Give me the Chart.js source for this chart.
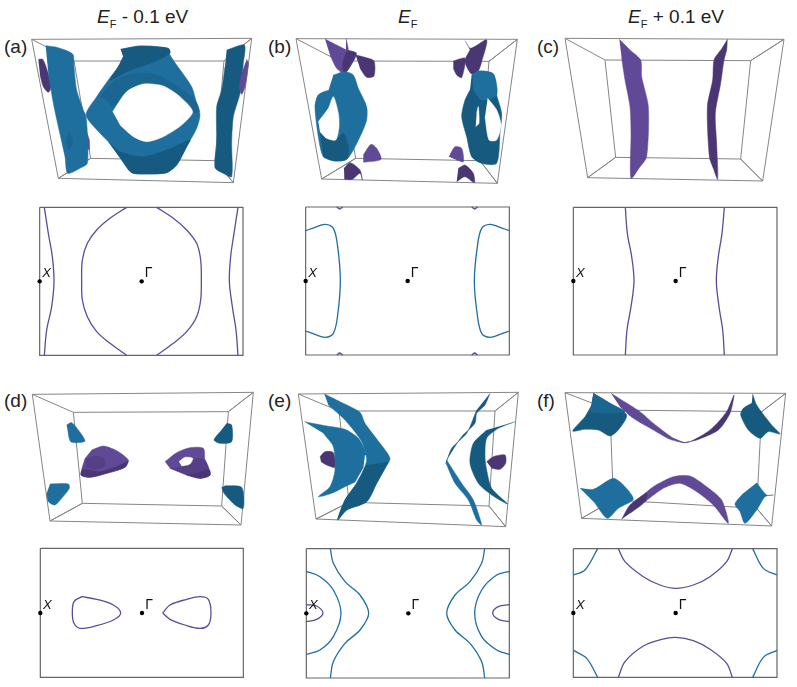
<!DOCTYPE html>
<html>
<head>
<meta charset="utf-8">
<script src="https://cdn.jsdelivr.net/npm/chart.js@4"></script>
<style>
  html, body { margin: 0; background: #fff; }
  body { position: relative; width: 797px; height: 687px; overflow: hidden; font-family: "Liberation Sans", Arial, sans-serif; color: #222; }
  canvas { position: absolute; }
  .txt { position: absolute; font-size: 19px; line-height: 22px; white-space: nowrap; }
  .txt sub { font-size: 11px; line-height: 0; }
</style>
</head>
<body>
<div class="txt" style="left:97px;top:6px"><i>E</i><sub>F</sub> - 0.1 eV</div>
<div class="txt" style="left:398px;top:6px"><i>E</i><sub>F</sub></div>
<div class="txt" style="left:628px;top:6px"><i>E</i><sub>F</sub> + 0.1 eV</div>
<div class="txt" style="left:4px;top:36px">(a)</div>
<div class="txt" style="left:268px;top:36px">(b)</div>
<div class="txt" style="left:537px;top:36px">(c)</div>
<div class="txt" style="left:4px;top:390px">(d)</div>
<div class="txt" style="left:268px;top:390px">(e)</div>
<div class="txt" style="left:537px;top:390px">(f)</div>
<script>
// === colours ===
const estilos = {
    azul: "#1f6f9e",
    azulMed: "#1b6591",
    azulOsc: "#175a80",
    morado: "#604a97",
    moradoMed: "#553f87",
    moradoOsc: "#4a3673",
    hueco: "#ffffff"
};

// === 3D boxes: 4 outer corners, then 4 back corners ===
const cajaA = [[95,118],[755,115],[700,548],[175,535],[222,183],[672,183],[645,482],[272,475]];
const cajaB = [[93,116],[757,118],[697,550],[170,537],[222,183],[672,184],[645,482],[272,475]];
const cajaC = [[105,115],[762,118],[698,543],[173,533],[225,180],[662,182],[632,477],[257,472]];
const cajaD = [[97,43],[760,37],[723,435],[150,423],[220,97],[685,95],[665,378],[247,370]];
const cajaE = [[100,42],[760,37],[722,440],[153,417],[222,93],[690,93],[672,378],[252,367]];
const cajaF = [[105,38],[767,40],[725,438],[155,415],[240,90],[695,95],[680,385],[250,360]];

// === (a) surfaces ===
const aMoradoIzq = [[115,178],[128,178],[143,215],[153,262],[145,277],[130,260],[120,225]];
const aMoradoPeq = [[258,392],[268,420],[268,450],[260,440]];
const aHojaIzq = [[137,137],[170,142],[218,162],[222,200],[230,270],[250,330],[258,350],[262,400],[262,490],[240,505],[203,520],[195,470],[175,380],[160,310],[145,220]];
const aHojaIzqSombra = [[208,395],[218,425],[206,450],[198,420]];
const aHojaDer = [[680,150],[733,135],[730,190],[720,280],[700,350],[695,430],[695,530],[670,520],[645,503],[650,430],[650,320],[665,270],[675,200]];
const aMoradoDer = [[740,178],[745,190],[735,260],[725,283],[718,260],[725,220]];
const aToro = [[362,148],[420,138],[505,145],[510,165],[530,195],[575,260],[590,310],[600,345],[590,385],[560,440],[530,495],[500,518],[440,522],[395,518],[365,480],[325,425],[300,400],[258,345],[290,290],[325,240],[355,200],[370,170]];
const aCuello = [[362,148],[420,138],[505,145],[510,160],[450,190],[380,215],[330,240],[355,200],[370,170]];
const aBanda = [[300,290],[345,242],[410,220],[470,225],[530,258],[585,300],[598,335],[578,335],[540,290],[490,258],[430,252],[380,275],[340,320],[320,300]];
const aBase = [[325,425],[360,455],[430,470],[500,450],[570,420],[560,440],[530,495],[500,518],[440,522],[395,518],[365,480]];
const aHueco = [[338,335],[380,275],[430,252],[490,258],[540,290],[578,335],[545,375],[490,410],[440,425],[400,410],[360,375]];

// === (b) surfaces ===
const bConoSup = [[180,117],[215,135],[245,150],[275,160],[255,200],[238,220],[215,205],[195,165]];
const bConoSupOsc = [[245,150],[272,160],[255,200],[238,220],[232,190]];
const bPunta = [[243,115],[250,150],[243,155]];
const bLobuloSup = [[272,165],[300,172],[327,183],[327,228],[305,232],[285,205]];
const bConoDer = [[600,122],[617,145],[665,120],[650,185],[640,212],[620,222],[605,200],[600,180],[615,150]];
const bLobuloDer = [[565,183],[600,175],[590,233],[575,225],[565,205]];
const bConoInf = [[295,465],[318,433],[335,445],[348,478],[295,487]];
const bLobuloInf = [[237,505],[255,488],[285,510],[292,540],[285,520],[262,538],[238,538]];
const bConoInfDer = [[552,470],[570,440],[590,445],[595,485],[575,480]];
const bLobuloInfDer = [[580,505],[600,495],[625,520],[628,548],[600,530],[575,545]];
const bAzulIzq = [[205,225],[240,215],[265,225],[280,265],[305,320],[305,360],[290,400],[265,450],[245,478],[210,483],[175,470],[160,410],[150,320],[160,285],[190,272]];
const bAzulIzqBase = [[165,395],[185,415],[212,420],[235,400],[250,440],[245,478],[210,483],[175,470]];
const bAzulIzqTira = [[150,320],[160,285],[190,272],[205,290],[190,325],[160,365],[155,350]];
const bHuecoIzq = [[160,365],[190,325],[205,290],[220,340],[222,380],[212,420],[185,415],[165,395]];
const bAzulDer = [[620,225],[640,213],[685,222],[695,285],[710,340],[705,400],[695,490],[650,490],[620,470],[605,410],[590,350],[600,300],[615,270]];
const bAzulDerSup = [[622,225],[640,213],[685,222],[695,285],[650,300],[625,270]];
const bHuecoDer1 = [[635,340],[640,320],[642,370],[632,380]];
const bHuecoDer2 = [[668,295],[695,330],[708,375],[695,420],[672,420],[660,350]];

// === (c) surfaces ===
const cHojaIzq = [[268,118],[300,150],[332,180],[335,230],[355,320],[350,470],[328,503],[303,535],[303,400],[300,320],[285,240],[275,175]];
const cHojaDer = [[592,118],[590,150],[582,180],[572,250],[556,340],[560,430],[563,538],[550,505],[538,470],[532,320],[548,240],[552,180],[572,150]];

// === (d) surfaces ===
const dAzul1 = [[200,135],[215,128],[235,150],[255,183],[232,188],[212,185],[205,165]];
const dAzul2 = [[150,312],[205,312],[208,325],[185,355],[165,375],[145,365],[140,340]];
const dAzul3 = [[680,130],[695,135],[695,185],[660,190],[642,180],[660,155]];
const dAzul4 = [[675,317],[725,322],[730,385],[705,375],[672,340],[665,322]];
const dMoradoIzq = [[275,210],[310,198],[350,212],[385,240],[375,262],[320,280],[270,292],[243,285],[255,235]];
const dBultoIzq = [[258,238],[285,228],[310,235],[315,258],[285,268],[255,262]];
const dMoradoIzqOsc = [[385,242],[375,262],[320,280],[270,292],[243,285],[250,268],[300,275],[345,262]];
const dMoradoDer = [[495,245],[530,218],[570,203],[610,205],[615,240],[630,285],[600,295],[560,285],[510,265]];
const dMoradoDerMed = [[510,265],[540,262],[590,235],[615,240],[630,285],[600,295],[560,285]];
const dMoradoDerOsc = [[560,285],[590,280],[628,270],[630,285],[600,295]];
const dHueco = [[537,245],[555,232],[578,235],[570,252],[545,258]];

// === (e) surfaces ===
const eMoradoIzq = [[165,230],[180,215],[205,218],[210,262],[185,255],[168,245]];
const eCreciente = [[118,125],[180,137],[240,148],[280,175],[303,220],[300,265],[280,300],[240,320],[200,340],[160,350],[195,320],[210,270],[205,200],[175,160]];
const eHoja = [[178,42],[225,65],[285,97],[300,130],[345,190],[375,235],[360,265],[335,310],[305,365],[245,390],[218,420],[240,360],[275,310],[305,240],[290,185],[240,120],[190,75]];
const eHojaOsc = [[370,245],[360,265],[335,310],[305,365],[245,390],[218,420],[240,360],[275,310],[305,255]];
const eRendija = [[300,225],[308,240],[300,270],[270,310],[295,265]];
const eHojaDerSup = [[675,40],[660,75],[635,100],[630,130],[590,170],[545,240],[543,250],[560,205],[605,160],[635,90]];
const eHojaDerInf = [[545,240],[590,310],[625,360],[650,435],[635,420],[610,360],[570,310],[543,250]];
const eCrecDer = [[750,125],[700,145],[665,175],[660,230],[665,270],[680,325],[728,372],[680,345],[640,310],[615,250],[625,190],[665,150]];
const eMoradoDer = [[665,245],[685,230],[720,225],[722,250],[705,268],[680,265]];

// === (f) surfaces ===
const fAzul1 = [[190,40],[240,70],[290,105],[265,150],[240,168],[205,150],[165,148],[128,153],[165,110],[185,75]];
const fAzul1Claro = [[190,40],[240,70],[285,95],[230,100],[180,95]];
const fAzul2 = [[668,42],[680,75],[725,135],[750,162],[715,155],[690,175],[655,150],[632,105],[640,85],[665,70]];
const fAzul3 = [[150,325],[190,328],[250,295],[285,320],[310,358],[265,385],[232,415],[195,370]];
const fAzul4 = [[680,308],[710,345],[730,345],[705,350],[680,390],[645,430],[630,395],[615,372],[640,340]];
const fCintaSupIzq = [[243,40],[275,60],[330,95],[370,130],[430,175],[460,188],[420,178],[370,150],[310,115],[270,80]];
const fCintaSupDer = [[430,175],[470,188],[540,150],[590,95],[612,45],[600,100],[565,150],[500,180],[460,188]];
const fCintaInf = [[310,370],[370,320],[430,290],[480,288],[530,320],[575,360],[595,430],[550,375],[500,335],[450,310],[400,325],[345,365]];
const fCintaInfOsc = [[275,418],[300,375],[350,340],[345,365],[300,400]];

// === 2D cuts: kx, ky measured from Gamma ===
const limA = [-306,304,222,-222];
const curvaA1 = [[-292,222],[-280,144],[-268,74],[-263,0],[-270,-76],[-285,-146],[-292,-222]];
const curvaA2 = [[289,222],[277,144],[267,74],[263,0],[272,-76],[283,-146],[289,-222]];
const curvaA3 = [[-45,222],[-95,189],[-135,154],[-163,114],[-178,64],[-180,0],[-178,-56],[-163,-106],[-135,-151],[-95,-186],[-45,-222]];
const curvaA4 = [[45,222],[95,189],[135,154],[165,114],[177,64],[179,0],[177,-56],[165,-106],[135,-151],[95,-186],[45,-222]];

const limB = [-306,305,222,-222];
const curvaB1 = [[-306,151],[-278,161],[-248,170],[-223,158],[-210,103],[-202,0],[-210,-102],[-223,-157],[-248,-169],[-278,-160],[-306,-150]];
const curvaB2 = [[305,151],[277,161],[247,170],[222,158],[209,103],[200,0],[209,-102],[222,-157],[247,-169],[277,-160],[305,-150]];
const arcoB1 = [[-213,222],[-204,216],[-195,222]];
const arcoB2 = [[192,222],[201,216],[210,222]];
const arcoB3 = [[-213,-222],[-204,-216],[-195,-222]];
const arcoB4 = [[192,-222],[201,-216],[210,-222]];

const limC = [-307,304,221,-222];
const curvaC1 = [[-151,221],[-145,143],[-132,73],[-125,0],[-134,-77],[-146,-147],[-151,-222]];
const curvaC2 = [[146,221],[139,143],[128,73],[122,0],[130,-77],[141,-147],[146,-222]];

const limD = [-305,304,194,-193];
const bucleD1 = [[-181,49],[-136,41],[-86,24],[-64,0],[-86,-21],[-136,-38],[-186,-46],[-204,-31],[-209,0],[-204,34],[-181,49]];
const bucleD2 = [[62,0],[84,24],[134,41],[174,49],[199,41],[207,0],[199,-36],[174,-46],[129,-36],[84,-19],[62,0]];

const limE = [-306,303,194,-194];
const curvaE1 = [[-234,194],[-225,150],[-190,95],[-145,55],[-119,0],[-145,-50],[-190,-90],[-225,-145],[-234,-194]];
const curvaE2 = [[229,194],[220,150],[185,95],[140,55],[115,0],[140,-50],[185,-90],[220,-145],[229,-194]];
const curvaE3 = [[-306,126],[-265,110],[-225,70],[-202,0],[-225,-70],[-265,-110],[-306,-123]];
const curvaE4 = [[303,126],[265,115],[220,70],[199,0],[220,-70],[265,-110],[303,-123]];
const curvaE5 = [[-306,26],[-275,22],[-256,1],[-275,-18],[-306,-25]];
const curvaE6 = [[303,26],[270,20],[253,1],[270,-18],[303,-25]];

const limF = [-307,304,193,-193];
const curvaF1 = [[-172,193],[-152,154],[-97,109],[-47,84],[0,74],[53,84],[103,109],[153,154],[170,193]];
const curvaF2 = [[-172,-193],[-152,-146],[-97,-99],[-42,-79],[0,-73],[53,-83],[103,-109],[153,-151],[170,-193]];
const curvaF3 = [[-307,114],[-272,129],[-234,193]];
const curvaF4 = [[304,114],[263,134],[231,193]];
const curvaF5 = [[-307,-112],[-267,-136],[-234,-193]];
const curvaF6 = [[304,-112],[263,-133],[231,-193]];

// =====================================
// === helpers ===
// =====================================
const aPuntos = (lista) => lista.map(p => ({ x: p[0], y: p[1] }));

function rutaCaja(c) {
    return [c[0],c[1],c[2],c[3],c[0],c[4],c[5],c[1],c[5],c[6],c[2],c[6],c[7],c[3],c[7],c[4]];
}

function rutaMarco(l) {
    return [[l[0],l[2]],[l[1],l[2]],[l[1],l[3]],[l[0],l[3]],[l[0],l[2]]];
}

function crearCanvas(left, top, alto) {
    const cv = document.createElement("canvas");
    cv.width = 265;
    cv.height = alto;
    cv.style.left = left + "px";
    cv.style.top = top + "px";
    cv.style.width = "265px";
    cv.style.height = alto + "px";
    document.body.appendChild(cv);
    return cv;
}

function opciones(xMin, xMax, yMin, yMax, invertir) {
    return {
        responsive: false,
        animation: false,
        layout: { padding: 0, autoPadding: false },
        plugins: { legend: { display: false }, tooltip: { enabled: false } },
        scales: {
            x: { type: "linear", display: false, min: xMin, max: xMax },
            y: { type: "linear", display: false, min: yMin, max: yMax, reverse: invertir }
        }
    };
}

// Chart.js paints the first dataset last, so the lists go back to front and get reversed
function panel3D(left, top, alto, caja, superficies) {
    const sets = [{
        data: aPuntos(rutaCaja(caja)), showLine: true, pointRadius: 0,
        borderColor: "#858585", borderWidth: 1, tension: 0, fill: false
    }];
    superficies.forEach(s => sets.push({
        data: aPuntos(s[0]), showLine: true, pointRadius: 0,
        borderColor: estilos[s[1]], backgroundColor: estilos[s[1]],
        borderWidth: 0.5, tension: 0.25, fill: "shape"
    }));
    new Chart(crearCanvas(left, top, alto), {
        type: "scatter",
        data: { datasets: sets.reverse() },
        options: opciones(0, 795, 0, alto * 3, true)
    });
}

const etiquetas = {
    id: "etiquetas",
    afterDraw(chart, args, o) {
        const ctx = chart.ctx;
        ctx.save();
        ctx.fillStyle = "#111";
        ctx.textAlign = "center";
        ctx.textBaseline = "middle";
        const xs = chart.scales.x, ys = chart.scales.y;
        ctx.font = "italic 13px 'Liberation Sans'";
        ctx.fillText("X", xs.getPixelForValue(o.xk) + 7, ys.getPixelForValue(0) - 8);
        ctx.font = "14px 'Liberation Sans'";
        ctx.fillText("Γ", xs.getPixelForValue(0) + 7, ys.getPixelForValue(0) - 8);
        ctx.restore();
    }
};

function panel2D(left, top, alto, gammaX, gammaY, lim, curvas) {
    const sets = [{
        data: aPuntos(rutaMarco(lim)), showLine: true, pointRadius: 0,
        borderColor: "#666666", borderWidth: 1.2, tension: 0, fill: false
    }];
    curvas.forEach(c => sets.push({
        data: aPuntos(c[0]), showLine: true, pointRadius: 0,
        borderColor: estilos[c[1]], borderWidth: 1.3, tension: 0.35, fill: false
    }));
    sets.push({
        data: aPuntos([[0,0],[lim[0],0]]), showLine: false,
        pointRadius: 2.2, pointBackgroundColor: "#000", pointBorderWidth: 0
    });
    const op = opciones(-gammaX, 795 - gammaX, gammaY - alto * 3, gammaY, false);
    op.plugins.etiquetas = { xk: lim[0] };
    new Chart(crearCanvas(left, top, alto), {
        type: "scatter",
        data: { datasets: sets.reverse() },
        options: op,
        plugins: [etiquetas]
    });
}

// =====================================
// === panels ===
// =====================================
panel3D(0, 0, 190, cajaA, [
    [aMoradoIzq,"moradoOsc"],[aMoradoPeq,"morado"],[aHojaIzq,"azul"],[aHojaIzqSombra,"azulMed"],
    [aHojaDer,"azulOsc"],[aMoradoDer,"morado"],[aToro,"azul"],[aCuello,"azulOsc"],
    [aBanda,"azulMed"],[aBase,"azulOsc"],[aHueco,"hueco"]
]);
panel3D(265, 0, 190, cajaB, [
    [bLobuloSup,"moradoOsc"],[bConoSup,"morado"],[bConoSupOsc,"moradoOsc"],[bPunta,"morado"],
    [bConoDer,"moradoOsc"],[bLobuloDer,"moradoOsc"],[bConoInf,"morado"],[bLobuloInf,"moradoOsc"],
    [bConoInfDer,"morado"],[bLobuloInfDer,"moradoOsc"],
    [bAzulIzq,"azul"],[bAzulIzqBase,"azulOsc"],[bAzulIzqTira,"azul"],[bHuecoIzq,"hueco"],
    [bAzulDer,"azulOsc"],[bAzulDerSup,"azul"],[bHuecoDer1,"hueco"],[bHuecoDer2,"hueco"]
]);
panel3D(530, 0, 190, cajaC, [[cHojaIzq,"morado"],[cHojaDer,"moradoOsc"]]);
panel3D(0, 380, 150, cajaD, [
    [dAzul1,"azul"],[dAzul2,"azul"],[dAzul3,"azulOsc"],[dAzul4,"azulOsc"],
    [dMoradoIzq,"morado"],[dBultoIzq,"moradoMed"],[dMoradoIzqOsc,"moradoOsc"],
    [dMoradoDer,"morado"],[dMoradoDerMed,"moradoMed"],[dMoradoDerOsc,"moradoOsc"],[dHueco,"hueco"]
]);
panel3D(265, 380, 150, cajaE, [
    [eMoradoIzq,"moradoOsc"],[eCreciente,"azul"],[eRendija,"hueco"],[eHoja,"azul"],[eHojaOsc,"azulOsc"],
    [eHojaDerSup,"azulOsc"],[eHojaDerInf,"azul"],[eCrecDer,"azulOsc"],[eMoradoDer,"moradoOsc"]
]);
panel3D(530, 380, 150, cajaF, [
    [fAzul1,"azulOsc"],[fAzul1Claro,"azulMed"],[fAzul2,"azulOsc"],[fAzul3,"azul"],[fAzul4,"azul"],
    [fCintaSupIzq,"morado"],[fCintaSupDer,"moradoOsc"],[fCintaInf,"morado"],[fCintaInfOsc,"moradoOsc"]
]);

panel2D(0, 200, 165, 425, 244, limA, [[curvaA1,"morado"],[curvaA2,"morado"],[curvaA3,"morado"],[curvaA4,"morado"]]);
panel2D(265, 200, 165, 428, 243, limB, [[curvaB1,"azul"],[curvaB2,"azul"],[arcoB1,"morado"],[arcoB2,"morado"],[arcoB3,"morado"],[arcoB4,"morado"]]);
panel2D(530, 200, 165, 437, 243, limC, [[curvaC1,"morado"],[curvaC2,"morado"]]);
panel2D(0, 540, 147, 426, 219, limD, [[bucleD1,"morado"],[bucleD2,"morado"]]);
panel2D(265, 540, 147, 430, 220, limE, [[curvaE1,"azul"],[curvaE2,"azul"],[curvaE3,"azul"],[curvaE4,"azul"],[curvaE5,"morado"],[curvaE6,"morado"]]);
panel2D(530, 540, 147, 437, 219, limF, [[curvaF1,"morado"],[curvaF2,"morado"],[curvaF3,"azul"],[curvaF4,"azul"],[curvaF5,"azul"],[curvaF6,"azul"]]);
</script>
</body>
</html>
